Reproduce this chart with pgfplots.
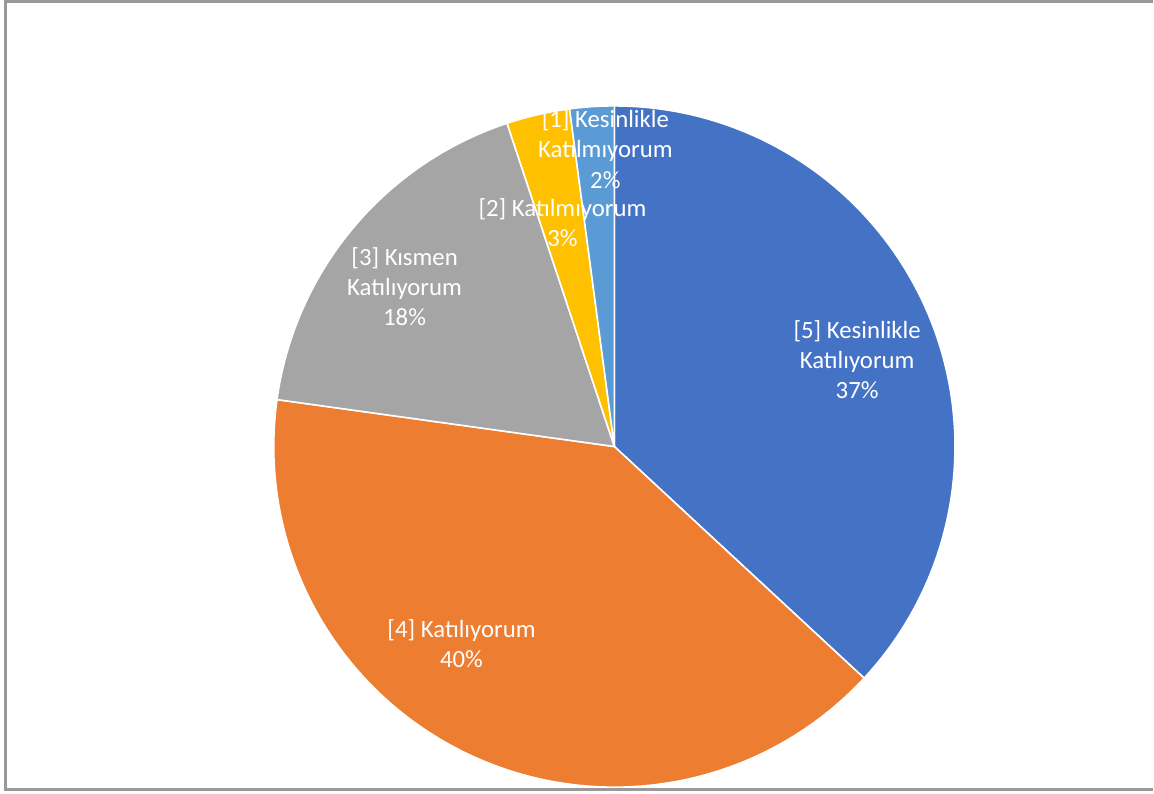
\documentclass[border=0pt]{standalone}
\usepackage{pgfplots}
\pgfplotsset{compat=1.18}
\usepackage{fontspec}
\setmainfont{Carlito}
\definecolor{c5}{HTML}{4472C4}
\definecolor{c4}{HTML}{ED7D31}
\definecolor{c3}{HTML}{A5A5A5}
\definecolor{c2}{HTML}{FFC000}
\definecolor{c1}{HTML}{5B9BD5}
\definecolor{frame}{HTML}{999999}
% shares (percent), clockwise from the top
\def\pFive{36.9}
\def\pFour{40.3}
\def\pThree{17.7}
\def\pTwo{3.0}
\def\pOne{2.1}
\def\cx{615}\def\cy{347}\def\rr{341}
\newcommand{\slice}[3]{% start cum, end cum, colour
  \pgfmathsetmacro\aS{90-3.6*(#2)}%
  \pgfmathsetmacro\aE{90-3.6*(#1)}%
  \addplot[fill=#3, draw=white, line width=0.8pt, domain=\aS:\aE, samples=90, line join=round]
    ({\cx+\rr*cos(x)},{\cy+\rr*sin(x)}) -- (axis cs:\cx,\cy) -- cycle;
}
\begin{document}
\begin{tikzpicture}
\begin{axis}[
  width=577pt, height=397pt, scale only axis,
  xmin=0, xmax=1154, ymin=0, ymax=794,
  hide axis, clip=false,
]
\addplot[draw=none, no marks] coordinates {(0,0) (1154,794)};
\addplot[frame, line width=1.2pt, no marks] coordinates {(1154,792.6) (5.5,792.6) (5.5,3.5) (1154,3.5)};
\pgfmathsetmacro\cA{\pFive}
\pgfmathsetmacro\cB{\cA+\pFour}
\pgfmathsetmacro\cC{\cB+\pThree}
\pgfmathsetmacro\cD{\cC+\pTwo}
\pgfmathsetmacro\cE{\cD+\pOne}
\slice{0}{\cA}{c5}
\slice{\cA}{\cB}{c4}
\slice{\cB}{\cC}{c3}
\slice{\cC}{\cD}{c2}
\slice{\cD}{\cE}{c1}
\begin{scope}[every node/.style={text=white, align=center, font=\fontsize{12.4}{15.2}\selectfont}]
\node at (axis cs:858,434) {[5] Kesinlikle\\Katılıyorum\\37\%};
\node at (axis cs:462,150) {[4] Katılıyorum\\40\%};
\node at (axis cs:405,507) {[3] Kısmen\\Katılıyorum\\18\%};
\node at (axis cs:563,571) {[2] Katılmıyorum\\3\%};
\node at (axis cs:606,645) {[1] Kesinlikle\\Katılmıyorum\\2\%};
\end{scope}
\end{axis}
\end{tikzpicture}
\end{document}
